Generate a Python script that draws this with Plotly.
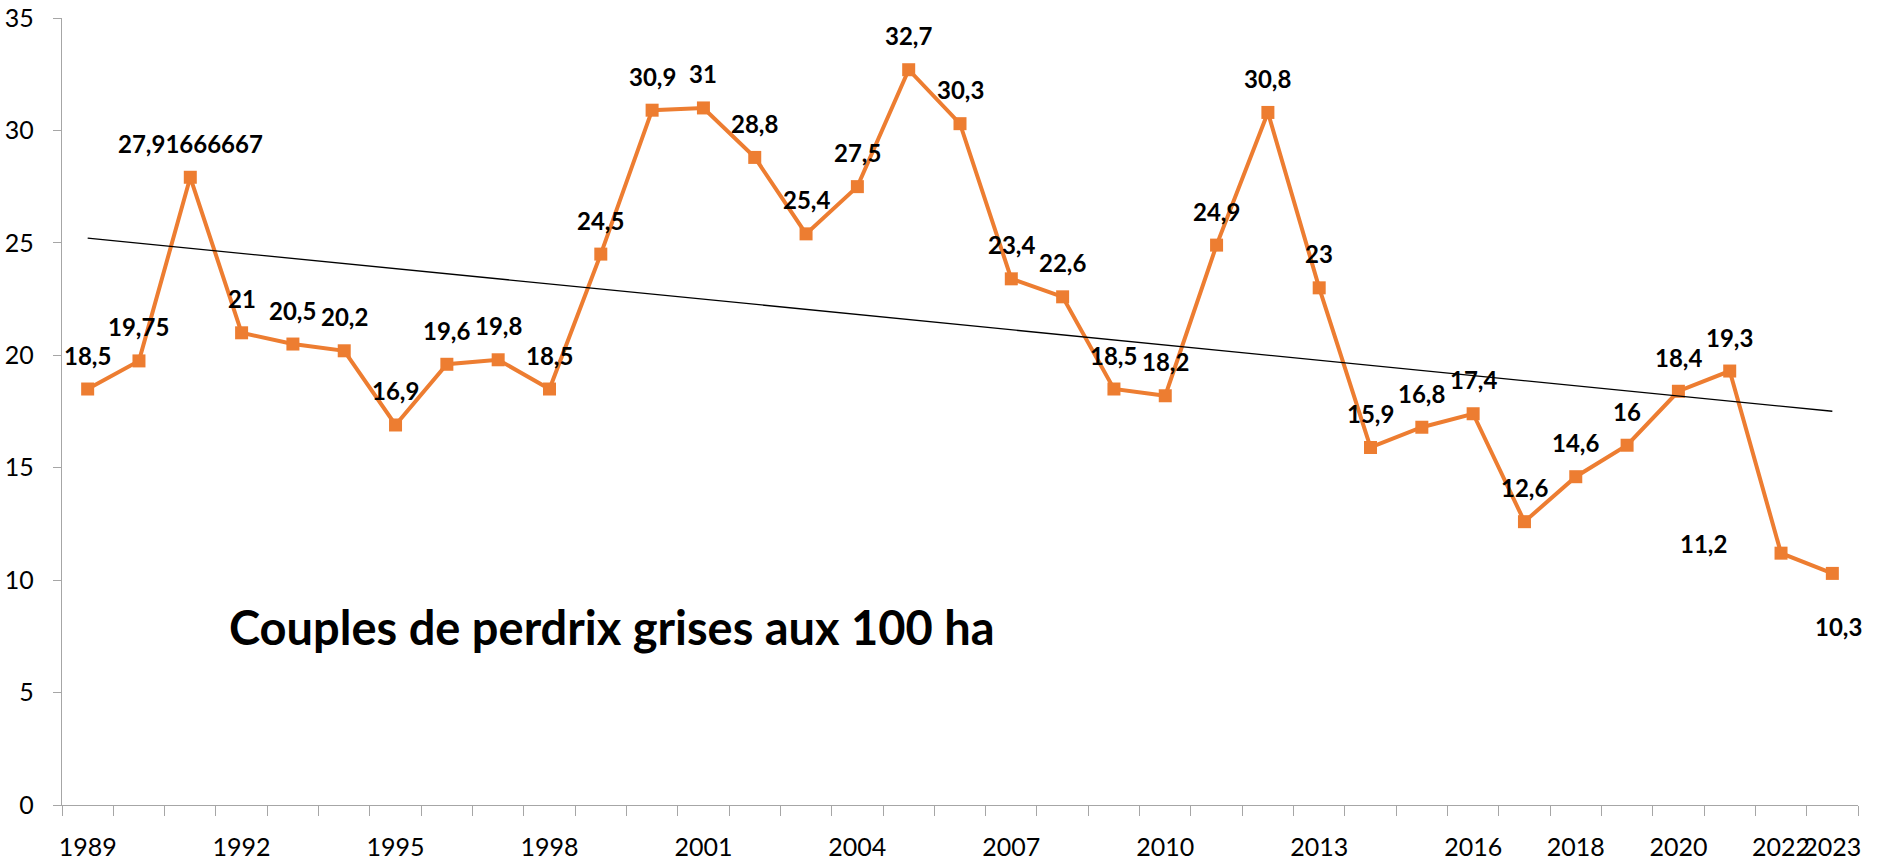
import numpy as np
import plotly.graph_objects as go

# ---- data ----
years = list(range(1989, 2024))
couples = [18.5, 19.75, 27.91666667, 21, 20.5, 20.2, 16.9, 19.6, 19.8, 18.5,
           24.5, 30.9, 31, 28.8, 25.4, 27.5, 32.7, 30.3, 23.4, 22.6,
           18.5, 18.2, 24.9, 30.8, 23, 15.9, 16.8, 17.4, 12.6, 14.6,
           16, 18.4, 19.3, 11.2, 10.3]
tick_years = [1989, 1992, 1995, 1998, 2001, 2004, 2007, 2010, 2013, 2016,
              2018, 2020, 2022, 2023]
y_ticks = [0, 5, 10, 15, 20, 25, 30, 35]
title_text = "Couples de perdrix grises aux 100 ha"

ORANGE = "#ED7D31"
AXIS_GREY = "#A6A6A6"
LABEL_FONT = "Lato, 'Liberation Sans', sans-serif"

def fr(v):
    return f"{v:.10g}".replace(".", ",")

# linear trend (least squares, like Excel's linear trendline)
slope, intercept = np.polyfit(years, couples, 1)
trend_x = [years[0], years[-1]]
trend_y = [slope * x + intercept for x in trend_x]

fig = go.Figure()
fig.add_trace(go.Scatter(
    x=years, y=couples, mode="lines+markers",
    line=dict(color=ORANGE, width=4),
    marker=dict(symbol="square", size=13, color=ORANGE),
    showlegend=False, hoverinfo="x+y"))
fig.add_trace(go.Scatter(
    x=trend_x, y=trend_y, mode="lines",
    line=dict(color="black", width=1.3),
    showlegend=False, hoverinfo="skip"))

# data labels
special = {2022: (-78, 10), 2023: (6, -53)}
for yr, v in zip(years, couples):
    dx, dy = special.get(yr, (0, 34))
    fig.add_annotation(x=yr, y=v, text=fr(v), showarrow=False,
                       xshift=dx, yshift=dy,
                       font=dict(family=LABEL_FONT, size=24, color="black",
                                 weight="bold"))

fig.add_annotation(xref="paper", yref="paper", x=0.3065, y=0.226,
                   xanchor="center", yanchor="middle", text=title_text,
                   showarrow=False,
                   font=dict(family=LABEL_FONT, size=47, color="black",
                             weight="bold"))

fig.update_layout(
    width=1883, height=863, autosize=False,
    margin=dict(l=62, r=25, t=18, b=58),
    plot_bgcolor="white", paper_bgcolor="white",
    xaxis=dict(range=[1988.5, 2023.5], tickvals=tick_years,
               ticktext=[str(t) for t in tick_years],
               tickangle=0, automargin=False,
               ticks="", showgrid=False, zeroline=False,
               showline=True, linecolor=AXIS_GREY, linewidth=1.3,
               ticklabelstandoff=20,
               tickfont=dict(family=LABEL_FONT, size=25, color="black"),
               minor=dict(ticks="outside", ticklen=10, tick0=1988.5, dtick=1,
                          tickcolor=AXIS_GREY, tickwidth=1.3, showgrid=False)),
    yaxis=dict(range=[0, 35], tickvals=y_ticks, ticks="outside", ticklen=8,
               automargin=False,
               tickcolor=AXIS_GREY, tickwidth=1.3, showgrid=False,
               zeroline=False, showline=True, linecolor=AXIS_GREY,
               linewidth=1.3, ticklabelstandoff=14,
               tickfont=dict(family=LABEL_FONT, size=25, color="black")),
)

# remove the page's default body margin so the figure fills the window exactly
fig.write_html("out.html",
               config={"displayModeBar": False},
               post_script="document.body.style.margin='0';"
                           "document.body.style.overflow='hidden';")
